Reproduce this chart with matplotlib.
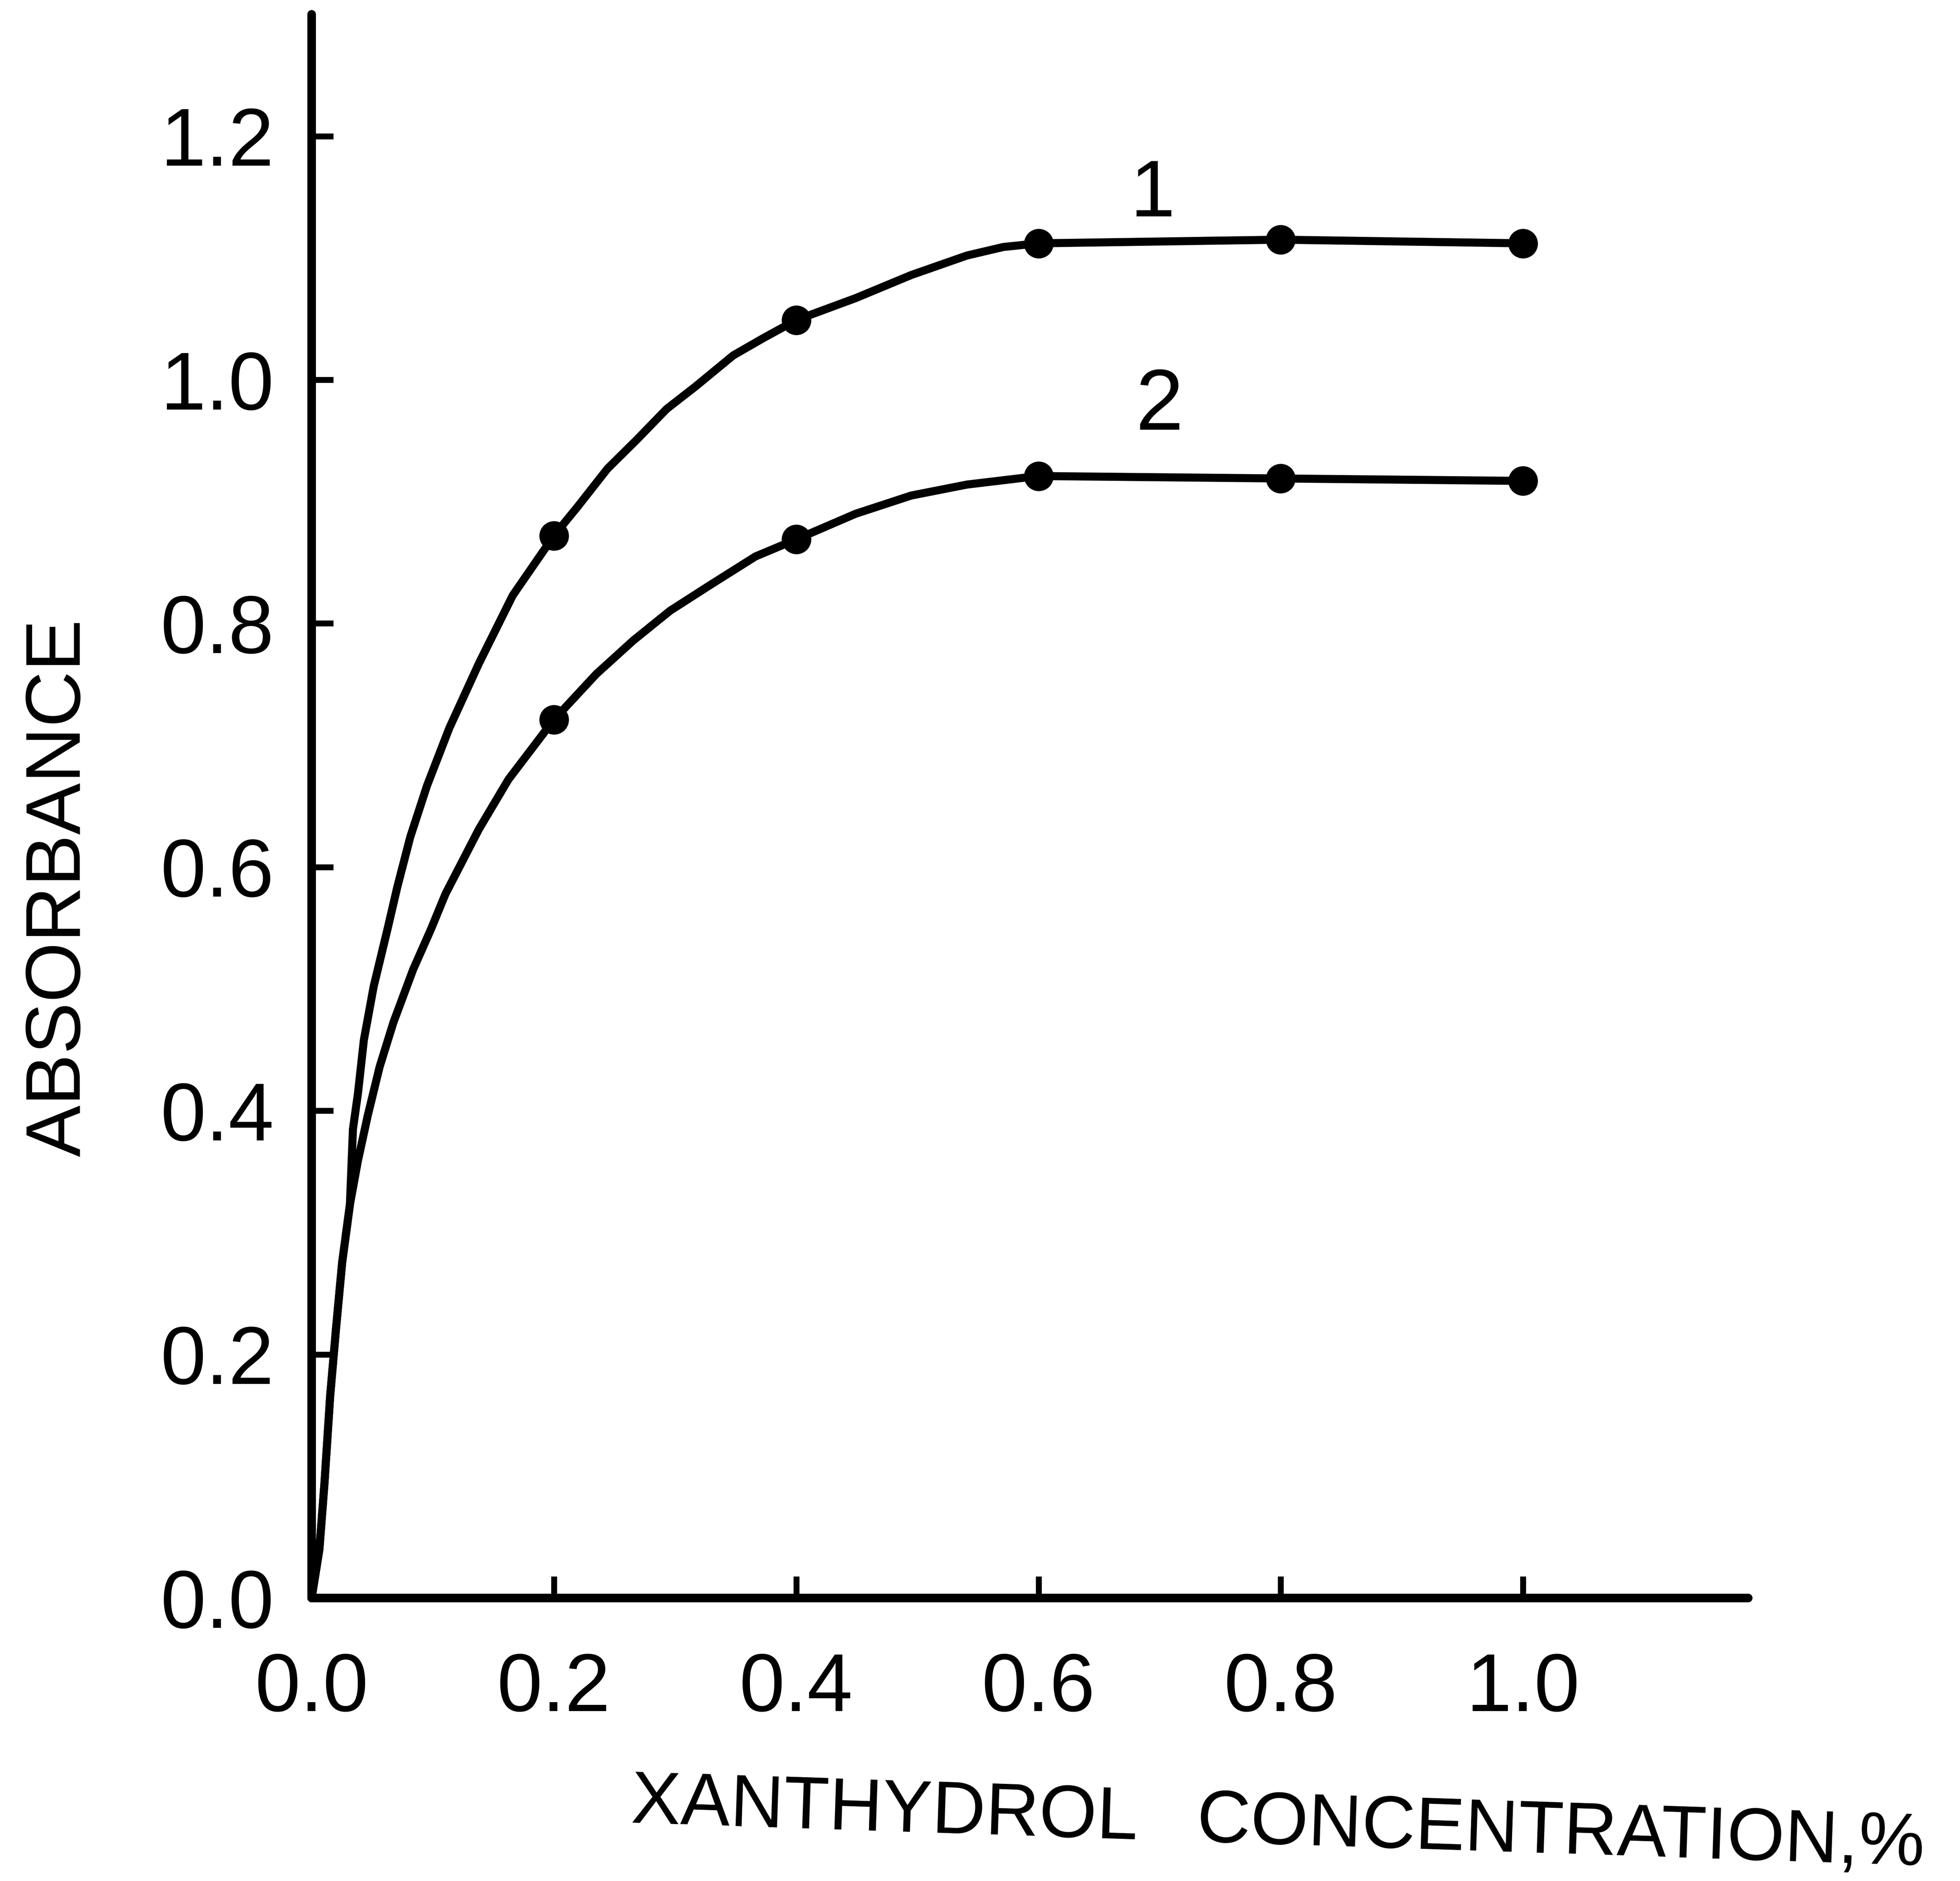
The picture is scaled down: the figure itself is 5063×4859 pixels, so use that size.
import matplotlib
matplotlib.use('Agg')
import matplotlib.pyplot as plt

# absorbance vs xanthydrol concentration, two series (1 and 2)
conc = [0.2, 0.4, 0.6, 0.8, 1.0]
abs_1 = [0.872, 1.049, 1.112, 1.115, 1.112]
abs_2 = [0.721, 0.869, 0.921, 0.919, 0.917]

# hand drawn curves
trace_x1 = [0.0, 0.0064, 0.0105, 0.0153, 0.0201, 0.0252, 0.0316, 0.0341, 0.0382,
            0.0431, 0.0512, 0.0626, 0.0708, 0.0815, 0.0953, 0.1136, 0.138, 0.166,
            0.2, 0.2197, 0.2442, 0.2686, 0.293, 0.3175, 0.348, 0.3725, 0.4,
            0.449, 0.495, 0.541, 0.571, 0.6, 0.8, 1.0]
trace_y1 = [0.0, 0.04, 0.093, 0.166, 0.221, 0.2755, 0.323, 0.385, 0.414,
            0.458, 0.502, 0.549, 0.584, 0.625, 0.667, 0.714, 0.767, 0.823,
            0.872, 0.896, 0.927, 0.951, 0.976, 0.995, 1.020, 1.034, 1.049,
            1.067, 1.086, 1.102, 1.109, 1.112, 1.115, 1.112]
trace_x2 = [0.0, 0.0064, 0.0105, 0.0153, 0.0201, 0.0252, 0.0316, 0.0382, 0.0463,
            0.0561, 0.0675, 0.0838, 0.0985, 0.1105, 0.138, 0.1625, 0.2, 0.235,
            0.2655, 0.296, 0.3297, 0.3664, 0.4, 0.449, 0.495, 0.541, 0.6, 0.8, 1.0]
trace_y2 = [0.0, 0.04, 0.093, 0.166, 0.221, 0.2755, 0.323, 0.359, 0.396,
            0.436, 0.4725, 0.516, 0.549, 0.578, 0.631, 0.672, 0.721, 0.7585,
            0.786, 0.8105, 0.832, 0.855, 0.869, 0.890, 0.905, 0.914, 0.921, 0.919, 0.917]

x_ticks = [0.0, 0.2, 0.4, 0.6, 0.8, 1.0]
x_ticklabels = ['0.0', '0.2', '0.4', '0.6', '0.8', '1.0']
y_ticks = [0.0, 0.2, 0.4, 0.6, 0.8, 1.0, 1.2]
y_ticklabels = ['0.0', '0.2', '0.4', '0.6', '0.8', '1.0', '1.2']

plt.rcParams['font.family'] = ['Liberation Sans', 'DejaVu Sans']

fig = plt.figure(figsize=(50.63, 48.59), dpi=100)
ax = fig.add_axes([0.159, 0.1504, 0.733, 0.842])

for tx, ty in [(trace_x1, trace_y1), (trace_x2, trace_y2)]:
    ax.plot(tx, ty, color='black', lw=15, solid_capstyle='round',
            solid_joinstyle='round')
ax.plot(conc, abs_1, 'o', color='black', ms=54)
ax.plot(conc, abs_2, 'o', color='black', ms=54)

ax.text(0.694, 1.134, '1', fontsize=150, ha='center', va='baseline')
ax.text(0.700, 0.959, '2', fontsize=160, ha='center', va='baseline')

ax.set_xlim(0, 1.186)
ax.set_ylim(0, 1.30)
for side in ['top', 'right']:
    ax.spines[side].set_visible(False)
for side in ['left', 'bottom']:
    ax.spines[side].set_linewidth(16)
    ax.spines[side].set_capstyle('round')

ax.set_xticks(x_ticks)
ax.set_xticklabels(x_ticklabels)
ax.set_yticks(y_ticks)
ax.set_yticklabels(y_ticklabels)
ax.tick_params(axis='both', direction='in', length=40, width=11, labelsize=152)
ax.tick_params(axis='x', pad=100)
ax.tick_params(axis='y', pad=70)

fig.text(0.652, 0.030, 'XANTHYDROL   CONCENTRATION,%', fontsize=138,
         ha='center', va='center', rotation=-1.9)
fig.text(0.0306, 0.528, 'ABSORBANCE', fontsize=144, ha='center', va='center',
         rotation=90)

fig.savefig('out.png', dpi=100, facecolor='white')
